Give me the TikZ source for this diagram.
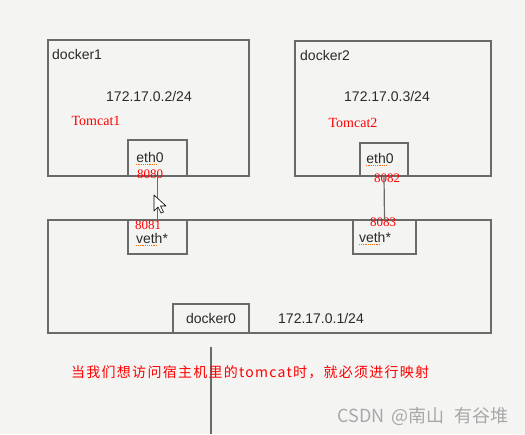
\documentclass[tikz,border=0pt]{standalone}
\usepackage{fontspec}
\setmainfont{Liberation Sans}
\newfontfamily\serifred{Liberation Serif}
\newfontfamily\cjk{Noto Sans CJK SC}
\newfontfamily\cjknote[LetterSpace=9]{Noto Sans CJK SC}
\begin{document}
\begin{tikzpicture}[x=1pt,y=-1pt,
  box/.style={draw=boxgray,line width=1.2pt,inner sep=0pt,outer sep=0pt,anchor=north west},
  lbl/.style={inner sep=0pt,font=\fontsize{14}{16}\selectfont,text=textgray},
  redlbl/.style={inner sep=0pt,font=\serifred\fontsize{13}{15}\selectfont,text=red},
  conn/.style={draw=boxgray,line width=1.2pt},
  squig/.style={draw=orange!80!red,line width=1pt,dash pattern=on 1.2pt off 1pt}]
\definecolor{boxgray}{HTML}{6A6A6A}
\definecolor{textgray}{HTML}{2A2A2A}
\definecolor{bg}{HTML}{F4F4F3}
\definecolor{wm}{HTML}{A8A8A8}
\fill[bg] (0,0) rectangle (525,434);
\useasboundingbox (0,0) rectangle (525,434);
% containers
\node[box,minimum width=201pt,minimum height=136pt] (d1) at (48,40) {};
\node[box,minimum width=196pt,minimum height=135pt] (d2) at (295,41) {};
\node[box,minimum width=443pt,minimum height=113pt] (host) at (48,220) {};
% interfaces
\node[box,minimum width=59pt,minimum height=36pt] (eth1) at (128,140) {};
\node[box,minimum width=48pt,minimum height=33pt] (eth2) at (360,143) {};
\node[box,minimum width=59pt,minimum height=34pt] (veth1) at (128,220) {};
\node[box,minimum width=63pt,minimum height=34pt] (veth2) at (353,220) {};
\node[box,minimum width=76pt,minimum height=29pt] (dk0) at (173,304) {};
% labels
\node[lbl,anchor=west] (t1) at (52,54) {docker1};
\node[lbl,anchor=west] (t2) at (300,55) {docker2};
\node[lbl] (ip1) at (149,96) {172.17.0.2/24};
\node[lbl] (ip2) at (387,96) {172.17.0.3/24};
\node[lbl] (ip0) at (321,318) {172.17.0.1/24};
\node[lbl] (dk0t) at (dk0) {docker0};
\node[lbl] (e1t) at (150,157) {eth0};
\node[lbl] (e2t) at (380,158) {eth0};
\node[lbl] (v1t) at (152,238) {veth*};
\node[lbl] (v2t) at (375,237) {veth*};
\draw[squig] ([yshift=-2pt]e1t.south west) -- ([yshift=-2pt,xshift=-6pt]e1t.south east);
\draw[squig] ([yshift=-2pt]e2t.south west) -- ([yshift=-2pt,xshift=-6pt]e2t.south east);
\draw[squig] ([yshift=-2pt]v1t.south west) -- ([yshift=-2pt,xshift=-12pt]v1t.south east);
\draw[squig] ([yshift=-2pt]v2t.south west) -- ([yshift=-2pt,xshift=-12pt]v2t.south east);
\node[redlbl,font=\serifred\fontsize{14}{16}\selectfont] (tc1) at (96,121) {Tomcat1};
\node[redlbl,font=\serifred\fontsize{14}{16}\selectfont] (tc2) at (353,123) {Tomcat2};
\node[redlbl] (p1) at (150,174) {8080};
\node[redlbl] (p2) at (387,178) {8082};
\node[redlbl] (p3) at (148,225) {8081};
\node[redlbl] (p4) at (383,222) {8083};
% connectors
\draw[conn] (eth1.south) -- (veth1.north);
\draw[conn] (eth2.south) -- (veth2.north);
\coordinate (v0) at (211,347);
\coordinate (v1) at (211,434);
\draw[draw=boxgray,line width=1.5pt] (v0) -- (v1);
% cursor
\draw[fill=white,draw=black,line width=0.6pt,line join=round]
  (154,195) -- (154,211) -- (158,207) -- (161,213) -- (163.5,212) -- (160.5,206) -- (166,206) -- cycle;
% note
\node[inner sep=0pt,anchor=west,text=red,font=\cjknote\fontsize{14}{16}\selectfont] (note) at (71,372) {当我们想访问宿主机里的tomcat时，就必须进行映射};
\node[inner sep=0pt,anchor=east,text=wm,font=\cjk\fontsize{18}{20}\selectfont] (wmk) at (509,416) {CSDN\hspace{7pt}@南山\hspace{10pt}有谷堆};
\end{tikzpicture}
\end{document}
